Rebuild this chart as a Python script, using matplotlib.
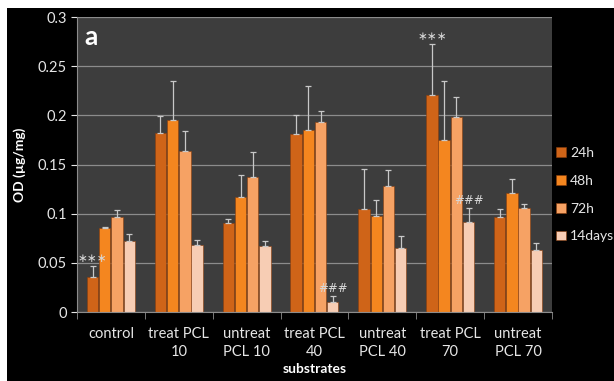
import numpy as np
import matplotlib.pyplot as plt
from matplotlib.patches import Rectangle

plt.rcParams['font.family'] = ['Lato', 'DejaVu Sans']

# data
groups = ['control', 'treat PCL\n10', 'untreat\nPCL 10', 'treat PCL\n40',
          'untreat\nPCL 40', 'treat PCL\n70', 'untreat\nPCL 70']
series = ['24h', '48h', '72h', '14days']

od_24h = [0.036, 0.182, 0.091, 0.181, 0.105, 0.221, 0.097]
od_48h = [0.086, 0.195, 0.117, 0.185, 0.098, 0.175, 0.121]
od_72h = [0.097, 0.164, 0.137, 0.193, 0.128, 0.198, 0.106]
od_14d = [0.072, 0.068, 0.067, 0.010, 0.065, 0.092, 0.063]

top_24h = [0.047, 0.199, 0.095, 0.200, 0.146, 0.273, 0.105]
top_48h = [0.087, 0.235, 0.139, 0.230, 0.114, 0.235, 0.135]
top_72h = [0.104, 0.184, 0.163, 0.205, 0.144, 0.219, 0.110]
top_14d = [0.079, 0.073, 0.072, 0.016, 0.077, 0.106, 0.070]

values = [od_24h, od_48h, od_72h, od_14d]
tops = [top_24h, top_48h, top_72h, top_14d]
colors = ['#cf6418', '#f4861f', '#f6a264', '#f7cdb4']

# significance marks: (series index, group index, text)
marks = [(0, 0, '∗∗∗'), (0, 5, '∗∗∗'), (3, 3, '###'), (3, 5, '###')]

fig = plt.figure(figsize=(6.14, 3.81), dpi=100, facecolor='black')
fig.add_artist(Rectangle((0, 0), 7 / 614, 1, transform=fig.transFigure,
                         facecolor='white', edgecolor='none'))
fig.add_artist(Rectangle((0, 1 - 8 / 381), 1, 8 / 381, transform=fig.transFigure,
                         facecolor='white', edgecolor='none'))

ax = fig.add_axes([0.1254, 0.181, 0.7736, 0.774])
ax.set_facecolor('#3d3d3d')

x = np.arange(len(groups))
w = 0.18
for i, (vals, tp, c, name) in enumerate(zip(values, tops, colors, series)):
    pos = x + (i - 1.5) * w
    vals = np.array(vals)
    err = np.array(tp) - vals
    ax.bar(pos, vals, w * 0.93, color=c, edgecolor='#8a3d0c', linewidth=0.4,
           label=name, zorder=2)
    ax.errorbar(pos, vals, yerr=[np.zeros_like(err), err], fmt='none',
                ecolor='#c8c8c8', elinewidth=0.9, capsize=2.5, capthick=0.9, zorder=3)

for si, gi, txt in marks:
    px = x[gi] + (si - 1.5) * w
    ax.text(px, tops[si][gi] + 0.001, txt, color='#d8d8d8', fontsize=8.5,
            family=['DejaVu Sans'], ha='center', va='bottom', zorder=4)

ax.set_xlim(-0.5, len(groups) - 0.5)
ax.set_ylim(0, 0.3)
ax.set_yticks(np.arange(0, 0.31, 0.05))
ax.set_yticklabels(['0', '0.05', '0.1', '0.15', '0.2', '0.25', '0.3'])
ax.yaxis.grid(True, color='#8c8c8c', linewidth=0.9, zorder=0)
ax.set_axisbelow(True)

ax.set_xticks(x)
ax.set_xticklabels(groups, linespacing=1.35)
ax.set_xticks(np.arange(-0.5, len(groups), 1), minor=True)
ax.tick_params(axis='x', which='major', length=0, pad=11)
ax.tick_params(axis='x', which='minor', length=5, color='#8c8c8c')
ax.tick_params(axis='y', length=4, color='#8c8c8c')
ax.tick_params(colors='#e6e6e6', labelsize=10.5)
ax.tick_params(axis='x', which='minor', colors='#8c8c8c')

for s in ['top', 'right']:
    ax.spines[s].set_visible(False)
for s in ['left', 'bottom']:
    ax.spines[s].set_color('#8c8c8c')

ax.set_ylabel('OD (µg/mg)', color='white', fontsize=10, fontweight='bold', labelpad=8)
ax.set_xlabel('substrates', color='white', fontsize=10, fontweight='bold', labelpad=3)

ax.text(0.015, 0.975, 'a', transform=ax.transAxes, color='white', fontsize=19,
        fontweight='bold', ha='left', va='top')

leg = ax.legend(loc='upper left', bbox_to_anchor=(0.997, 0.58), frameon=False,
                fontsize=10, handlelength=0.7, handleheight=0.7,
                handletextpad=0.3, labelspacing=1.15, borderaxespad=0)
for t in leg.get_texts():
    t.set_color('#e6e6e6')

fig.savefig('out.png', dpi=100, facecolor='black')
